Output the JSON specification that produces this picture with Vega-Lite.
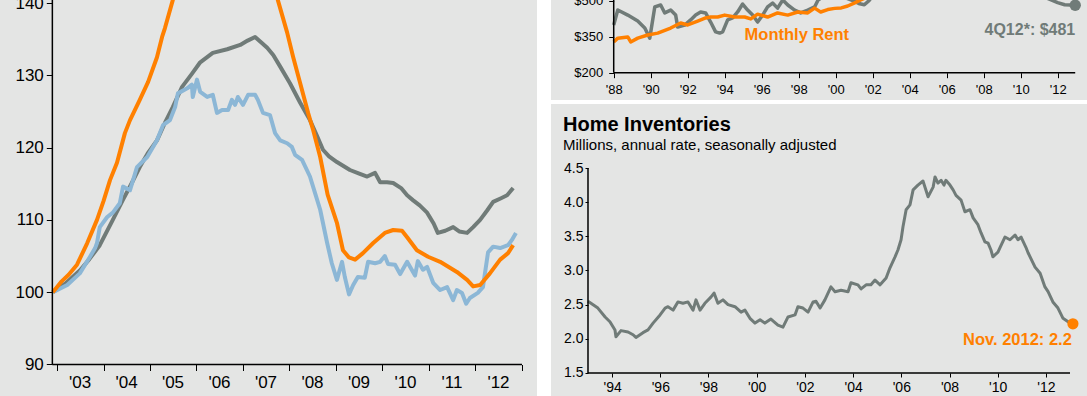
{
  "$schema": "https://vega.github.io/schema/vega-lite/v6.json",
  "background": "white",
  "padding": {"left": 0, "top": -6, "right": 0, "bottom": 0},
  "autosize": {"type": "pad"},
  "config": {
    "font": "Liberation Sans",
    "view": {"stroke": null},
    "axis": {"grid": false, "domain": false, "labelColor": "#000000", "tickColor": "#000000", "labelFont": "Liberation Sans", "labelFlush": false, "labelOverlap": false, "tickWidth": 1}
  },
  "datasets": {
    "prices": [
      {"series": "Index 1", "year": 2002.91, "value": 100}, {"series": "Index 1", "year": 2003.2, "value": 101.3}, {"series": "Index 1", "year": 2003.49, "value": 103}, {"series": "Index 1", "year": 2003.7, "value": 104.6}, {"series": "Index 1", "year": 2003.92, "value": 106.5}, {"series": "Index 1", "year": 2004.2, "value": 110}, {"series": "Index 1", "year": 2004.42, "value": 112.8}, {"series": "Index 1", "year": 2004.6, "value": 115}, {"series": "Index 1", "year": 2004.78, "value": 117.3}, {"series": "Index 1", "year": 2004.95, "value": 119.2}, {"series": "Index 1", "year": 2005.15, "value": 121}, {"series": "Index 1", "year": 2005.32, "value": 123.4}, {"series": "Index 1", "year": 2005.49, "value": 125.6}, {"series": "Index 1", "year": 2005.69, "value": 128.4}, {"series": "Index 1", "year": 2005.9, "value": 130.2}, {"series": "Index 1", "year": 2006.08, "value": 131.8}, {"series": "Index 1", "year": 2006.35, "value": 133.1}, {"series": "Index 1", "year": 2006.66, "value": 133.6}, {"series": "Index 1", "year": 2006.94, "value": 134.2}, {"series": "Index 1", "year": 2007.1, "value": 134.8}, {"series": "Index 1", "year": 2007.26, "value": 135.3}, {"series": "Index 1", "year": 2007.4, "value": 134.5}, {"series": "Index 1", "year": 2007.52, "value": 133.8}, {"series": "Index 1", "year": 2007.65, "value": 132.8}, {"series": "Index 1", "year": 2007.8, "value": 131.2}, {"series": "Index 1", "year": 2008.01, "value": 128.9}, {"series": "Index 1", "year": 2008.23, "value": 126.2}, {"series": "Index 1", "year": 2008.44, "value": 123.8}, {"series": "Index 1", "year": 2008.6, "value": 121.5}, {"series": "Index 1", "year": 2008.72, "value": 119.7}, {"series": "Index 1", "year": 2008.85, "value": 118.8}, {"series": "Index 1", "year": 2009.02, "value": 118}, {"series": "Index 1", "year": 2009.3, "value": 116.9}, {"series": "Index 1", "year": 2009.5, "value": 116.4}, {"series": "Index 1", "year": 2009.67, "value": 116}, {"series": "Index 1", "year": 2009.84, "value": 116.5}, {"series": "Index 1", "year": 2009.95, "value": 115.2}, {"series": "Index 1", "year": 2010.1, "value": 115.2}, {"series": "Index 1", "year": 2010.23, "value": 115.1}, {"series": "Index 1", "year": 2010.4, "value": 114.4}, {"series": "Index 1", "year": 2010.53, "value": 113.4}, {"series": "Index 1", "year": 2010.66, "value": 112.7}, {"series": "Index 1", "year": 2010.8, "value": 112}, {"series": "Index 1", "year": 2010.96, "value": 111}, {"series": "Index 1", "year": 2011.1, "value": 109.5}, {"series": "Index 1", "year": 2011.19, "value": 108.2}, {"series": "Index 1", "year": 2011.35, "value": 108.5}, {"series": "Index 1", "year": 2011.52, "value": 109}, {"series": "Index 1", "year": 2011.65, "value": 108.4}, {"series": "Index 1", "year": 2011.82, "value": 108.2}, {"series": "Index 1", "year": 2011.95, "value": 109}, {"series": "Index 1", "year": 2012.1, "value": 110}, {"series": "Index 1", "year": 2012.25, "value": 111.3}, {"series": "Index 1", "year": 2012.38, "value": 112.5}, {"series": "Index 1", "year": 2012.55, "value": 113}, {"series": "Index 1", "year": 2012.68, "value": 113.4}, {"series": "Index 1", "year": 2012.81, "value": 114.4},
      {"series": "Index 2", "year": 2002.91, "value": 100}, {"series": "Index 2", "year": 2003.22, "value": 101}, {"series": "Index 2", "year": 2003.49, "value": 102.6}, {"series": "Index 2", "year": 2003.71, "value": 104.9}, {"series": "Index 2", "year": 2003.82, "value": 106.1}, {"series": "Index 2", "year": 2003.86, "value": 106.8}, {"series": "Index 2", "year": 2003.92, "value": 109}, {"series": "Index 2", "year": 2004.08, "value": 110.4}, {"series": "Index 2", "year": 2004.2, "value": 111}, {"series": "Index 2", "year": 2004.35, "value": 112.3}, {"series": "Index 2", "year": 2004.42, "value": 114.6}, {"series": "Index 2", "year": 2004.57, "value": 114.1}, {"series": "Index 2", "year": 2004.72, "value": 117.3}, {"series": "Index 2", "year": 2004.94, "value": 118.7}, {"series": "Index 2", "year": 2005.15, "value": 121}, {"series": "Index 2", "year": 2005.28, "value": 123.1}, {"series": "Index 2", "year": 2005.43, "value": 123.8}, {"series": "Index 2", "year": 2005.54, "value": 125.6}, {"series": "Index 2", "year": 2005.6, "value": 127.5}, {"series": "Index 2", "year": 2005.8, "value": 128.2}, {"series": "Index 2", "year": 2005.9, "value": 128.7}, {"series": "Index 2", "year": 2005.92, "value": 127}, {"series": "Index 2", "year": 2006.01, "value": 129.4}, {"series": "Index 2", "year": 2006.08, "value": 127.7}, {"series": "Index 2", "year": 2006.23, "value": 127}, {"series": "Index 2", "year": 2006.35, "value": 127.3}, {"series": "Index 2", "year": 2006.44, "value": 124.8}, {"series": "Index 2", "year": 2006.55, "value": 125.2}, {"series": "Index 2", "year": 2006.68, "value": 125.2}, {"series": "Index 2", "year": 2006.76, "value": 126.6}, {"series": "Index 2", "year": 2006.83, "value": 125.9}, {"series": "Index 2", "year": 2006.89, "value": 127}, {"series": "Index 2", "year": 2007.0, "value": 125.9}, {"series": "Index 2", "year": 2007.11, "value": 127.3}, {"series": "Index 2", "year": 2007.26, "value": 127.3}, {"series": "Index 2", "year": 2007.32, "value": 126.6}, {"series": "Index 2", "year": 2007.43, "value": 124.8}, {"series": "Index 2", "year": 2007.58, "value": 124.5}, {"series": "Index 2", "year": 2007.69, "value": 122}, {"series": "Index 2", "year": 2007.8, "value": 121}, {"series": "Index 2", "year": 2007.95, "value": 120.6}, {"series": "Index 2", "year": 2008.05, "value": 120.1}, {"series": "Index 2", "year": 2008.12, "value": 119}, {"series": "Index 2", "year": 2008.27, "value": 118.3}, {"series": "Index 2", "year": 2008.44, "value": 116}, {"series": "Index 2", "year": 2008.55, "value": 113.7}, {"series": "Index 2", "year": 2008.66, "value": 111.4}, {"series": "Index 2", "year": 2008.81, "value": 106.8}, {"series": "Index 2", "year": 2008.91, "value": 104}, {"series": "Index 2", "year": 2009.02, "value": 101.7}, {"series": "Index 2", "year": 2009.13, "value": 104.2}, {"series": "Index 2", "year": 2009.19, "value": 102.1}, {"series": "Index 2", "year": 2009.28, "value": 99.7}, {"series": "Index 2", "year": 2009.37, "value": 101}, {"series": "Index 2", "year": 2009.47, "value": 102.1}, {"series": "Index 2", "year": 2009.62, "value": 102}, {"series": "Index 2", "year": 2009.69, "value": 104.2}, {"series": "Index 2", "year": 2009.84, "value": 104}, {"series": "Index 2", "year": 2009.95, "value": 104.2}, {"series": "Index 2", "year": 2010.05, "value": 105}, {"series": "Index 2", "year": 2010.12, "value": 103.9}, {"series": "Index 2", "year": 2010.27, "value": 103.8}, {"series": "Index 2", "year": 2010.38, "value": 102.5}, {"series": "Index 2", "year": 2010.53, "value": 104.2}, {"series": "Index 2", "year": 2010.7, "value": 102.3}, {"series": "Index 2", "year": 2010.76, "value": 104.3}, {"series": "Index 2", "year": 2010.87, "value": 103.1}, {"series": "Index 2", "year": 2010.96, "value": 103.5}, {"series": "Index 2", "year": 2011.09, "value": 101.3}, {"series": "Index 2", "year": 2011.24, "value": 100.3}, {"series": "Index 2", "year": 2011.39, "value": 100.7}, {"series": "Index 2", "year": 2011.52, "value": 98.9}, {"series": "Index 2", "year": 2011.6, "value": 100.3}, {"series": "Index 2", "year": 2011.71, "value": 99.9}, {"series": "Index 2", "year": 2011.8, "value": 98.4}, {"series": "Index 2", "year": 2011.88, "value": 99.2}, {"series": "Index 2", "year": 2012.05, "value": 99.9}, {"series": "Index 2", "year": 2012.16, "value": 100.7}, {"series": "Index 2", "year": 2012.27, "value": 105.5}, {"series": "Index 2", "year": 2012.38, "value": 106.3}, {"series": "Index 2", "year": 2012.53, "value": 106.1}, {"series": "Index 2", "year": 2012.7, "value": 106.5}, {"series": "Index 2", "year": 2012.78, "value": 107.2}, {"series": "Index 2", "year": 2012.87, "value": 108.2},
      {"series": "Index 3", "year": 2002.91, "value": 100}, {"series": "Index 3", "year": 2003.1, "value": 101.5}, {"series": "Index 3", "year": 2003.25, "value": 102.4}, {"series": "Index 3", "year": 2003.43, "value": 103.8}, {"series": "Index 3", "year": 2003.65, "value": 106.8}, {"series": "Index 3", "year": 2003.86, "value": 110}, {"series": "Index 3", "year": 2004.0, "value": 112.6}, {"series": "Index 3", "year": 2004.14, "value": 115.5}, {"series": "Index 3", "year": 2004.29, "value": 117.9}, {"series": "Index 3", "year": 2004.46, "value": 122}, {"series": "Index 3", "year": 2004.57, "value": 123.8}, {"series": "Index 3", "year": 2004.78, "value": 126.6}, {"series": "Index 3", "year": 2004.96, "value": 129.1}, {"series": "Index 3", "year": 2005.15, "value": 132.5}, {"series": "Index 3", "year": 2005.26, "value": 135.3}, {"series": "Index 3", "year": 2005.32, "value": 136.5}, {"series": "Index 3", "year": 2005.49, "value": 140.4}, {"series": "Index 3", "year": 2005.75, "value": 145}, {"series": "Index 3", "year": 2006.25, "value": 150}, {"series": "Index 3", "year": 2006.75, "value": 151}, {"series": "Index 3", "year": 2007.25, "value": 149}, {"series": "Index 3", "year": 2007.55, "value": 145}, {"series": "Index 3", "year": 2007.75, "value": 140.4}, {"series": "Index 3", "year": 2007.95, "value": 135.9}, {"series": "Index 3", "year": 2008.08, "value": 132.5}, {"series": "Index 3", "year": 2008.23, "value": 128.9}, {"series": "Index 3", "year": 2008.4, "value": 124.8}, {"series": "Index 3", "year": 2008.51, "value": 122.4}, {"series": "Index 3", "year": 2008.66, "value": 118.7}, {"series": "Index 3", "year": 2008.82, "value": 113.5}, {"series": "Index 3", "year": 2009.02, "value": 109.6}, {"series": "Index 3", "year": 2009.15, "value": 105.8}, {"series": "Index 3", "year": 2009.28, "value": 104.8}, {"series": "Index 3", "year": 2009.41, "value": 104.5}, {"series": "Index 3", "year": 2009.58, "value": 105.4}, {"series": "Index 3", "year": 2009.8, "value": 106.8}, {"series": "Index 3", "year": 2010.05, "value": 108.2}, {"series": "Index 3", "year": 2010.23, "value": 108.6}, {"series": "Index 3", "year": 2010.42, "value": 108.5}, {"series": "Index 3", "year": 2010.53, "value": 107.6}, {"series": "Index 3", "year": 2010.74, "value": 105.8}, {"series": "Index 3", "year": 2010.98, "value": 104.9}, {"series": "Index 3", "year": 2011.24, "value": 104.2}, {"series": "Index 3", "year": 2011.6, "value": 102.8}, {"series": "Index 3", "year": 2011.82, "value": 101.7}, {"series": "Index 3", "year": 2011.95, "value": 100.8}, {"series": "Index 3", "year": 2012.1, "value": 101}, {"series": "Index 3", "year": 2012.31, "value": 102.6}, {"series": "Index 3", "year": 2012.53, "value": 104.5}, {"series": "Index 3", "year": 2012.7, "value": 105.4}, {"series": "Index 3", "year": 2012.81, "value": 106.5}
    ],
    "costs": [
      {"series": "Mortgage Payment", "year": 1988.0, "value": 399}, {"series": "Mortgage Payment", "year": 1988.22, "value": 461}, {"series": "Mortgage Payment", "year": 1988.76, "value": 440}, {"series": "Mortgage Payment", "year": 1989.3, "value": 415}, {"series": "Mortgage Payment", "year": 1989.68, "value": 386}, {"series": "Mortgage Payment", "year": 1989.95, "value": 344}, {"series": "Mortgage Payment", "year": 1990.22, "value": 474}, {"series": "Mortgage Payment", "year": 1990.54, "value": 482}, {"series": "Mortgage Payment", "year": 1990.76, "value": 449}, {"series": "Mortgage Payment", "year": 1991.08, "value": 461}, {"series": "Mortgage Payment", "year": 1991.35, "value": 440}, {"series": "Mortgage Payment", "year": 1991.46, "value": 390}, {"series": "Mortgage Payment", "year": 1991.84, "value": 398}, {"series": "Mortgage Payment", "year": 1992.16, "value": 420}, {"series": "Mortgage Payment", "year": 1992.43, "value": 440}, {"series": "Mortgage Payment", "year": 1992.7, "value": 453}, {"series": "Mortgage Payment", "year": 1992.97, "value": 449}, {"series": "Mortgage Payment", "year": 1993.24, "value": 411}, {"series": "Mortgage Payment", "year": 1993.51, "value": 370}, {"series": "Mortgage Payment", "year": 1993.73, "value": 365}, {"series": "Mortgage Payment", "year": 1993.89, "value": 370}, {"series": "Mortgage Payment", "year": 1994.16, "value": 420}, {"series": "Mortgage Payment", "year": 1994.43, "value": 428}, {"series": "Mortgage Payment", "year": 1994.7, "value": 453}, {"series": "Mortgage Payment", "year": 1994.97, "value": 486}, {"series": "Mortgage Payment", "year": 1995.24, "value": 461}, {"series": "Mortgage Payment", "year": 1995.51, "value": 440}, {"series": "Mortgage Payment", "year": 1995.78, "value": 411}, {"series": "Mortgage Payment", "year": 1996.05, "value": 440}, {"series": "Mortgage Payment", "year": 1996.32, "value": 474}, {"series": "Mortgage Payment", "year": 1996.59, "value": 490}, {"series": "Mortgage Payment", "year": 1996.86, "value": 469}, {"series": "Mortgage Payment", "year": 1997.14, "value": 503}, {"series": "Mortgage Payment", "year": 1997.41, "value": 482}, {"series": "Mortgage Payment", "year": 1997.78, "value": 461}, {"series": "Mortgage Payment", "year": 1998.11, "value": 449}, {"series": "Mortgage Payment", "year": 1998.49, "value": 461}, {"series": "Mortgage Payment", "year": 1998.86, "value": 474}, {"series": "Mortgage Payment", "year": 1999.05, "value": 503}, {"series": "Mortgage Payment", "year": 1999.4, "value": 520}, {"series": "Mortgage Payment", "year": 2000.0, "value": 515}, {"series": "Mortgage Payment", "year": 2000.6, "value": 510}, {"series": "Mortgage Payment", "year": 2001.0, "value": 498}, {"series": "Mortgage Payment", "year": 2001.3, "value": 487}, {"series": "Mortgage Payment", "year": 2001.55, "value": 483}, {"series": "Mortgage Payment", "year": 2001.8, "value": 500}, {"series": "Mortgage Payment", "year": 2002.1, "value": 530}, {"series": "Mortgage Payment", "year": 2003.0, "value": 580}, {"series": "Mortgage Payment", "year": 2004.0, "value": 640}, {"series": "Mortgage Payment", "year": 2005.0, "value": 720}, {"series": "Mortgage Payment", "year": 2006.0, "value": 780}, {"series": "Mortgage Payment", "year": 2007.0, "value": 770}, {"series": "Mortgage Payment", "year": 2008.0, "value": 700}, {"series": "Mortgage Payment", "year": 2009.0, "value": 620}, {"series": "Mortgage Payment", "year": 2010.0, "value": 560}, {"series": "Mortgage Payment", "year": 2011.0, "value": 525}, {"series": "Mortgage Payment", "year": 2011.65, "value": 503}, {"series": "Mortgage Payment", "year": 2012.0, "value": 492}, {"series": "Mortgage Payment", "year": 2012.38, "value": 483}, {"series": "Mortgage Payment", "year": 2012.7, "value": 482}, {"series": "Mortgage Payment", "year": 2012.95, "value": 481},
      {"series": "Monthly Rent", "year": 1988.0, "value": 328}, {"series": "Monthly Rent", "year": 1988.22, "value": 344}, {"series": "Monthly Rent", "year": 1988.76, "value": 349}, {"series": "Monthly Rent", "year": 1988.92, "value": 328}, {"series": "Monthly Rent", "year": 1989.3, "value": 344}, {"series": "Monthly Rent", "year": 1989.84, "value": 357}, {"series": "Monthly Rent", "year": 1990.38, "value": 365}, {"series": "Monthly Rent", "year": 1991.08, "value": 386}, {"series": "Monthly Rent", "year": 1991.62, "value": 407}, {"series": "Monthly Rent", "year": 1992.0, "value": 399}, {"series": "Monthly Rent", "year": 1992.54, "value": 415}, {"series": "Monthly Rent", "year": 1992.97, "value": 428}, {"series": "Monthly Rent", "year": 1993.24, "value": 432}, {"series": "Monthly Rent", "year": 1993.62, "value": 432}, {"series": "Monthly Rent", "year": 1994.0, "value": 440}, {"series": "Monthly Rent", "year": 1994.54, "value": 432}, {"series": "Monthly Rent", "year": 1995.08, "value": 432}, {"series": "Monthly Rent", "year": 1995.41, "value": 424}, {"series": "Monthly Rent", "year": 1995.78, "value": 444}, {"series": "Monthly Rent", "year": 1996.32, "value": 432}, {"series": "Monthly Rent", "year": 1996.86, "value": 449}, {"series": "Monthly Rent", "year": 1997.41, "value": 440}, {"series": "Monthly Rent", "year": 1997.95, "value": 453}, {"series": "Monthly Rent", "year": 1998.49, "value": 449}, {"series": "Monthly Rent", "year": 1998.86, "value": 469}, {"series": "Monthly Rent", "year": 1999.19, "value": 453}, {"series": "Monthly Rent", "year": 1999.57, "value": 463}, {"series": "Monthly Rent", "year": 1999.95, "value": 468}, {"series": "Monthly Rent", "year": 2000.3, "value": 470}, {"series": "Monthly Rent", "year": 2000.65, "value": 478}, {"series": "Monthly Rent", "year": 2001.0, "value": 490}, {"series": "Monthly Rent", "year": 2001.35, "value": 503}, {"series": "Monthly Rent", "year": 2002.0, "value": 525}, {"series": "Monthly Rent", "year": 2004.0, "value": 560}, {"series": "Monthly Rent", "year": 2006.0, "value": 600}, {"series": "Monthly Rent", "year": 2008.0, "value": 640}, {"series": "Monthly Rent", "year": 2010.0, "value": 680}, {"series": "Monthly Rent", "year": 2012.9, "value": 720}
    ],
    "inventory": [
      {"year": 1993.0, "value": 2.55}, {"year": 1993.41, "value": 2.45}, {"year": 1993.71, "value": 2.32}, {"year": 1993.91, "value": 2.25}, {"year": 1994.12, "value": 2.13}, {"year": 1994.16, "value": 2.03}, {"year": 1994.37, "value": 2.12}, {"year": 1994.66, "value": 2.1}, {"year": 1994.87, "value": 2.06}, {"year": 1994.99, "value": 2.02}, {"year": 1995.28, "value": 2.09}, {"year": 1995.49, "value": 2.13}, {"year": 1995.7, "value": 2.23}, {"year": 1995.99, "value": 2.35}, {"year": 1996.2, "value": 2.45}, {"year": 1996.32, "value": 2.47}, {"year": 1996.53, "value": 2.42}, {"year": 1996.73, "value": 2.54}, {"year": 1996.94, "value": 2.52}, {"year": 1997.15, "value": 2.54}, {"year": 1997.36, "value": 2.42}, {"year": 1997.48, "value": 2.57}, {"year": 1997.65, "value": 2.42}, {"year": 1997.85, "value": 2.52}, {"year": 1998.1, "value": 2.61}, {"year": 1998.23, "value": 2.67}, {"year": 1998.39, "value": 2.52}, {"year": 1998.6, "value": 2.57}, {"year": 1998.81, "value": 2.5}, {"year": 1999.1, "value": 2.47}, {"year": 1999.35, "value": 2.39}, {"year": 1999.51, "value": 2.42}, {"year": 1999.72, "value": 2.3}, {"year": 1999.93, "value": 2.23}, {"year": 2000.14, "value": 2.28}, {"year": 2000.34, "value": 2.23}, {"year": 2000.59, "value": 2.29}, {"year": 2000.88, "value": 2.2}, {"year": 2001.09, "value": 2.17}, {"year": 2001.3, "value": 2.32}, {"year": 2001.59, "value": 2.35}, {"year": 2001.71, "value": 2.47}, {"year": 2001.92, "value": 2.45}, {"year": 2002.13, "value": 2.39}, {"year": 2002.34, "value": 2.54}, {"year": 2002.46, "value": 2.55}, {"year": 2002.63, "value": 2.45}, {"year": 2002.83, "value": 2.57}, {"year": 2003.08, "value": 2.76}, {"year": 2003.25, "value": 2.69}, {"year": 2003.5, "value": 2.71}, {"year": 2003.79, "value": 2.69}, {"year": 2003.91, "value": 2.82}, {"year": 2004.2, "value": 2.79}, {"year": 2004.33, "value": 2.73}, {"year": 2004.54, "value": 2.79}, {"year": 2004.74, "value": 2.79}, {"year": 2004.91, "value": 2.86}, {"year": 2005.12, "value": 2.79}, {"year": 2005.37, "value": 2.89}, {"year": 2005.53, "value": 3.04}, {"year": 2005.74, "value": 3.2}, {"year": 2005.86, "value": 3.3}, {"year": 2005.99, "value": 3.45}, {"year": 2006.07, "value": 3.64}, {"year": 2006.2, "value": 3.89}, {"year": 2006.36, "value": 3.96}, {"year": 2006.49, "value": 4.18}, {"year": 2006.69, "value": 4.25}, {"year": 2006.9, "value": 4.31}, {"year": 2007.11, "value": 4.08}, {"year": 2007.32, "value": 4.22}, {"year": 2007.4, "value": 4.37}, {"year": 2007.52, "value": 4.28}, {"year": 2007.65, "value": 4.32}, {"year": 2007.77, "value": 4.25}, {"year": 2007.85, "value": 4.32}, {"year": 2008.02, "value": 4.25}, {"year": 2008.15, "value": 4.18}, {"year": 2008.27, "value": 4.1}, {"year": 2008.48, "value": 4.03}, {"year": 2008.64, "value": 3.86}, {"year": 2008.85, "value": 3.89}, {"year": 2008.98, "value": 3.77}, {"year": 2009.18, "value": 3.67}, {"year": 2009.31, "value": 3.55}, {"year": 2009.47, "value": 3.42}, {"year": 2009.6, "value": 3.4}, {"year": 2009.72, "value": 3.3}, {"year": 2009.8, "value": 3.2}, {"year": 2010.01, "value": 3.27}, {"year": 2010.1, "value": 3.34}, {"year": 2010.3, "value": 3.49}, {"year": 2010.51, "value": 3.45}, {"year": 2010.72, "value": 3.52}, {"year": 2010.84, "value": 3.45}, {"year": 2010.97, "value": 3.49}, {"year": 2011.17, "value": 3.34}, {"year": 2011.26, "value": 3.26}, {"year": 2011.55, "value": 3.05}, {"year": 2011.76, "value": 2.96}, {"year": 2011.96, "value": 2.76}, {"year": 2012.09, "value": 2.69}, {"year": 2012.29, "value": 2.54}, {"year": 2012.5, "value": 2.45}, {"year": 2012.71, "value": 2.3}, {"year": 2012.92, "value": 2.25}, {"year": 2013.12, "value": 2.22}
    ]
  },
  "spacing": 6,
  "hconcat": [
    {
      "width": 537,
      "height": 396,
      "view": {"fill": "#e4e5e4", "stroke": null},
      "layer": [
        {
          "data": {"name": "prices"},
          "transform": [{"filter": "datum.series === 'Index 1'"}],
          "mark": {"type": "line", "color": "#707b78", "strokeWidth": 4, "clip": true, "strokeJoin": "round"},
          "encoding": {
            "x": {"field": "year", "type": "quantitative", "scale": {"domain": [2001.774, 2013.323], "nice": false, "zero": false},
              "axis": {"values": [2003, 2004, 2005, 2006, 2007, 2008, 2009, 2010, 2011, 2012, 2013], "offset": -31.5, "tickSize": 6, "labelPadding": 4, "labelOffset": 22.5, "labelFontSize": 17, "labelExpr": "datum.value >= 2013 ? '' : \"'\" + slice(format(datum.value, 'd'), 2)", "title": null}},
            "y": {"field": "value", "type": "quantitative", "scale": {"domain": [85.64, 140.415], "nice": false, "zero": false},
              "axis": {"values": [90, 100, 110, 120, 130, 140], "offset": -52.3, "tickSize": 6, "labelPadding": 3, "labelFontSize": 17, "title": null}}
          }
        },
        {
          "data": {"name": "prices"},
          "transform": [{"filter": "datum.series === 'Index 2'"}],
          "mark": {"type": "line", "color": "#8cb7d6", "strokeWidth": 4, "clip": true, "strokeJoin": "round"},
          "encoding": {"x": {"field": "year", "type": "quantitative"}, "y": {"field": "value", "type": "quantitative"}}
        },
        {
          "data": {"name": "prices"},
          "transform": [{"filter": "datum.series === 'Index 3'"}],
          "mark": {"type": "line", "color": "#ff8000", "strokeWidth": 4, "clip": true, "strokeJoin": "round"},
          "encoding": {"x": {"field": "year", "type": "quantitative"}, "y": {"field": "value", "type": "quantitative"}}
        },
        {
          "data": {"values": [{}]},
          "mark": {"type": "rule", "color": "#000000", "strokeWidth": 1.5},
          "encoding": {"x": {"datum": 2002.9, "type": "quantitative"}, "x2": {"datum": 2013}, "y": {"datum": 90, "type": "quantitative"}}
        },
        {
          "data": {"values": [{}]},
          "mark": {"type": "rule", "color": "#000000", "strokeWidth": 1.5},
          "encoding": {"x": {"datum": 2002.9, "type": "quantitative"}, "y": {"datum": 90, "type": "quantitative"}, "y2": {"datum": 140.415}}
        }
      ]
    },
    {
      "spacing": 4,
      "vconcat": [
        {
          "width": 544,
          "height": 100,
          "view": {"fill": "#e4e5e4", "stroke": null},
          "layer": [
            {
              "data": {"name": "costs"},
              "transform": [{"filter": "datum.series === 'Mortgage Payment'"}],
              "mark": {"type": "line", "color": "#707b78", "strokeWidth": 3.5, "clip": true, "strokeJoin": "round"},
              "encoding": {
                "x": {"field": "year", "type": "quantitative", "scale": {"domain": [1984.61, 2014.02], "nice": false, "zero": false},
                  "axis": {"values": [1988, 1990, 1992, 1994, 1996, 1998, 2000, 2002, 2004, 2006, 2008, 2010, 2012], "offset": -27.3, "tickSize": 5, "labelPadding": 6, "labelFontSize": 13, "labelExpr": "\"'\" + slice(format(datum.value, 'd'), 2)", "title": null}},
                "y": {"field": "value", "type": "quantitative", "scale": {"domain": [86.25, 502.9], "nice": false, "zero": false},
                  "axis": {"values": [200, 350, 500], "offset": -62.7, "tickSize": 5, "labelPadding": 6, "labelFontSize": 13, "labelExpr": "'$' + format(datum.value, 'd')", "title": null}}
              }
            },
            {
              "data": {"name": "costs"},
              "transform": [{"filter": "datum.series === 'Monthly Rent'"}],
              "mark": {"type": "line", "color": "#ff8000", "strokeWidth": 3.5, "clip": true, "strokeJoin": "round"},
              "encoding": {"x": {"field": "year", "type": "quantitative"}, "y": {"field": "value", "type": "quantitative"}}
            },
            {
              "data": {"name": "costs"},
              "transform": [{"filter": "datum.series === 'Mortgage Payment' && datum.year >= 2012.95"}],
              "mark": {"type": "point", "filled": true, "color": "#707b78", "opacity": 1, "size": 130, "clip": true},
              "encoding": {"x": {"field": "year", "type": "quantitative"}, "y": {"field": "value", "type": "quantitative"}}
            },
            {
              "data": {"values": [{"year": 1997.9, "value": 358.2, "label": "Monthly Rent"}]},
              "mark": {"type": "text", "color": "#ff8000", "fontSize": 16.5, "fontWeight": "bold", "font": "Liberation Sans", "align": "center", "baseline": "middle"},
              "encoding": {"x": {"field": "year", "type": "quantitative"}, "y": {"field": "value", "type": "quantitative"}, "text": {"field": "label"}}
            },
            {
              "data": {"values": [{"year": 2010.5, "value": 378.7, "label": "4Q12*: $481"}]},
              "mark": {"type": "text", "color": "#707b78", "fontSize": 16, "fontWeight": "bold", "font": "Liberation Sans", "align": "center", "baseline": "middle"},
              "encoding": {"x": {"field": "year", "type": "quantitative"}, "y": {"field": "value", "type": "quantitative"}, "text": {"field": "label"}}
            },
            {
              "data": {"values": [{}]},
              "mark": {"type": "rule", "color": "#000000", "strokeWidth": 1.5},
              "encoding": {"x": {"datum": 1988, "type": "quantitative"}, "x2": {"datum": 2012.95}, "y": {"datum": 200, "type": "quantitative"}}
            },
            {
              "data": {"values": [{}]},
              "mark": {"type": "rule", "color": "#000000", "strokeWidth": 1.5},
              "encoding": {"x": {"datum": 1988, "type": "quantitative"}, "y": {"datum": 200, "type": "quantitative"}, "y2": {"datum": 502.9}}
            }
          ]
        },
        {
          "width": 544,
          "height": 292,
          "view": {"fill": "#e4e5e4", "stroke": null},
          "title": {"text": "Home Inventories", "subtitle": "Millions, annual rate, seasonally adjusted", "anchor": "start", "frame": "group", "orient": "top", "offset": -49, "dx": 12, "font": "Liberation Sans", "fontSize": 20, "fontWeight": "bold", "color": "#000000", "subtitleFont": "Liberation Sans", "subtitleFontSize": 15, "subtitleColor": "#000000", "subtitlePadding": 3},
          "layer": [
            {
              "data": {"name": "inventory"},
              "mark": {"type": "line", "color": "#707b78", "strokeWidth": 3, "strokeJoin": "round"},
              "encoding": {
                "x": {"field": "year", "type": "quantitative", "scale": {"domain": [1991.465, 2014.037], "nice": false, "zero": false},
                  "axis": {"values": [1994, 1996, 1998, 2000, 2002, 2004, 2006, 2008, 2010, 2012], "offset": -23, "tickSize": 4, "labelPadding": 3, "labelFontSize": 14, "labelExpr": "\"'\" + slice(format(datum.value, 'd'), 2)", "title": null}},
                "y": {"field": "value", "type": "quantitative", "scale": {"domain": [1.163, 5.437], "nice": false, "zero": false},
                  "axis": {"values": [1.5, 2.0, 2.5, 3.0, 3.5, 4.0, 4.5], "format": ".1f", "offset": -37, "tickSize": 3, "labelPadding": 2, "labelFontSize": 14, "title": null}}
              }
            },
            {
              "data": {"name": "inventory"},
              "transform": [{"filter": "datum.year >= 2013.1"}],
              "mark": {"type": "point", "filled": true, "color": "#ff8000", "opacity": 1, "size": 125},
              "encoding": {"x": {"field": "year", "type": "quantitative"}, "y": {"field": "value", "type": "quantitative"}}
            },
            {
              "data": {"values": [{"year": 2010.82, "value": 1.986, "label": "Nov. 2012: 2.2"}]},
              "mark": {"type": "text", "color": "#ff8000", "fontSize": 16.5, "fontWeight": "bold", "font": "Liberation Sans", "align": "center", "baseline": "middle"},
              "encoding": {"x": {"field": "year", "type": "quantitative"}, "y": {"field": "value", "type": "quantitative"}, "text": {"field": "label"}}
            },
            {
              "data": {"values": [{}]},
              "mark": {"type": "rule", "color": "#000000", "strokeWidth": 1.5},
              "encoding": {"x": {"datum": 1993, "type": "quantitative"}, "x2": {"datum": 2013}, "y": {"datum": 1.5, "type": "quantitative"}}
            },
            {
              "data": {"values": [{}]},
              "mark": {"type": "rule", "color": "#000000", "strokeWidth": 1.5},
              "encoding": {"x": {"datum": 1993, "type": "quantitative"}, "y": {"datum": 1.5, "type": "quantitative"}, "y2": {"datum": 4.5}}
            }
          ]
        }
      ]
    }
  ]
}
